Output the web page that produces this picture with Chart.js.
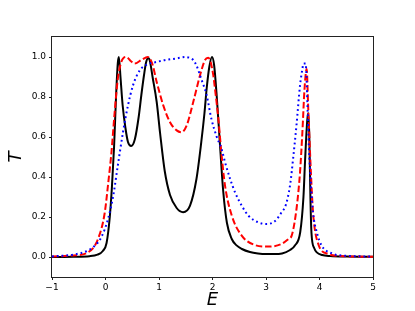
<!DOCTYPE html>
<html lang="en">
<head>
  <meta charset="UTF-8">
  <title>Transmission T(E)</title>
  <script src="https://cdn.jsdelivr.net/npm/chart.js"></script>
  <style>
    body { margin: 0; background: #fff; }
    .chart-container { position: relative; width: 415px; height: 311px; }
  </style>
</head>
<body>
  <div class="chart-container"><canvas id="tChart" width="415" height="311"></canvas></div>
  <script>
    // solid black curve
    const blackE = [-1, -0.6, -0.3, -0.15, -0.05, 0.02, 0.08, 0.12, 0.16, 0.2, 0.23, 0.25, 0.28, 0.32, 0.37, 0.42, 0.48, 0.55, 0.62, 0.67, 0.72, 0.76, 0.8, 0.83, 0.88, 0.957, 1.02, 1.107, 1.206, 1.33, 1.45, 1.58, 1.7, 1.79, 1.85, 1.89, 1.94, 1.99, 2.03, 2.08, 2.14, 2.2, 2.27, 2.36, 2.45, 2.55, 2.7, 2.85, 3.0, 3.15, 3.3, 3.45, 3.54, 3.64, 3.7, 3.73, 3.77, 3.79, 3.81, 3.83, 3.85, 3.9, 3.95, 4.05, 4.2, 4.5, 5];
    const blackT = [0, 0.001, 0.004, 0.012, 0.03, 0.07, 0.2, 0.35, 0.55, 0.82, 0.97, 1.0, 0.9, 0.76, 0.65, 0.575, 0.555, 0.59, 0.7, 0.81, 0.91, 0.975, 0.995, 0.98, 0.9, 0.775, 0.62, 0.43, 0.31, 0.245, 0.224, 0.257, 0.39, 0.574, 0.72, 0.84, 0.95, 1.0, 0.96, 0.8, 0.56, 0.33, 0.17, 0.09, 0.058, 0.04, 0.025, 0.018, 0.015, 0.015, 0.018, 0.035, 0.057, 0.125, 0.3, 0.48, 0.68, 0.72, 0.6, 0.3, 0.12, 0.045, 0.023, 0.01, 0.005, 0.002, 0.001];

    // dashed red curve
    const redE = [-1, -0.6, -0.35, -0.14, -0.015, 0.047, 0.11, 0.17, 0.23, 0.295, 0.39, 0.47, 0.545, 0.67, 0.79, 0.87, 0.957, 1.08, 1.206, 1.33, 1.42, 1.518, 1.64, 1.766, 1.86, 1.92, 1.96, 2.015, 2.047, 2.11, 2.17, 2.234, 2.36, 2.546, 2.79, 3.04, 3.29, 3.42, 3.48, 3.57, 3.636, 3.68, 3.72, 3.76, 3.79, 3.84, 3.88, 3.97, 4.16, 4.4, 5];
    const redT = [0.002, 0.008, 0.02, 0.09, 0.22, 0.36, 0.52, 0.72, 0.89, 0.975, 1.0, 0.98, 0.967, 0.985, 1.0, 0.97, 0.875, 0.758, 0.674, 0.633, 0.624, 0.658, 0.775, 0.908, 0.985, 0.996, 0.98, 0.908, 0.84, 0.69, 0.51, 0.357, 0.207, 0.107, 0.06, 0.052, 0.065, 0.09, 0.107, 0.24, 0.424, 0.624, 0.84, 0.94, 0.74, 0.42, 0.22, 0.07, 0.015, 0.005, 0.001];

    // dotted blue curve
    const blueE = [-1, -0.6, -0.33, -0.2, -0.08, 0.047, 0.145, 0.23, 0.327, 0.42, 0.514, 0.64, 0.794, 0.95, 1.08, 1.33, 1.5, 1.58, 1.64, 1.7, 1.79, 1.89, 1.98, 2.08, 2.17, 2.234, 2.33, 2.42, 2.546, 2.67, 2.856, 3.01, 3.17, 3.29, 3.37, 3.45, 3.51, 3.57, 3.636, 3.68, 3.7, 3.74, 3.78, 3.8, 3.84, 3.88, 3.95, 4.04, 4.23, 4.4, 5];
    const blueT = [0.003, 0.012, 0.032, 0.057, 0.098, 0.19, 0.307, 0.457, 0.624, 0.758, 0.858, 0.933, 0.965, 0.975, 0.983, 0.993, 1.0, 0.995, 0.985, 0.958, 0.89, 0.81, 0.69, 0.6, 0.54, 0.474, 0.39, 0.324, 0.257, 0.207, 0.173, 0.165, 0.18, 0.223, 0.26, 0.36, 0.5, 0.66, 0.858, 0.94, 0.967, 0.967, 0.72, 0.558, 0.36, 0.22, 0.123, 0.057, 0.018, 0.008, 0.002];

    const xTicks = [-1, 0, 1, 2, 3, 4, 5];
    const yTicks = [0, 0.2, 0.4, 0.6, 0.8, 1.0];

    function pts(xs, ys) {
      return xs.map((x, i) => ({ x: x, y: ys[i] }));
    }

    // box around the plot area, like matplotlib spines
    const framePlugin = {
      id: 'frame',
      afterDatasetsDraw(chart) {
        const { ctx, chartArea: a } = chart;
        ctx.save();
        ctx.strokeStyle = '#222';
        ctx.lineWidth = 1;
        ctx.strokeRect(Math.round(a.left) - 0.5, Math.round(a.top) - 0.5, Math.round(a.right - a.left) + 1, Math.round(a.bottom - a.top) + 1);
        ctx.restore();
      }
    };

    Chart.defaults.font.family = 'DejaVu Sans';
    Chart.defaults.color = '#000';

    const lineOpts = { pointRadius: 0, fill: false, cubicInterpolationMode: 'monotone', borderCapStyle: 'butt' };

    new Chart(document.getElementById('tChart'), {
      type: 'line',
      data: {
        datasets: [
          Object.assign({ label: 'black', data: pts(blackE, blackT), borderColor: '#000', borderWidth: 2, order: 3 }, lineOpts),
          Object.assign({ label: 'red', data: pts(redE, redT), borderColor: '#ff0000', borderWidth: 2, borderDash: [6.5, 2.8], order: 2 }, lineOpts),
          Object.assign({ label: 'blue', data: pts(blueE, blueT), borderColor: '#0000ff', borderWidth: 2, borderDash: [1.8, 3], order: 1 }, lineOpts)
        ]
      },
      options: {
        responsive: false,
        animation: false,
        layout: { padding: { top: 37, right: 42, left: 0, bottom: 0 } },
        plugins: {
          legend: { display: false },
          tooltip: { enabled: false }
        },
        scales: {
          x: {
            type: 'linear',
            min: -1,
            max: 5,
            afterBuildTicks: s => { s.ticks = xTicks.map(v => ({ value: v })); },
            afterFit: s => { s.height = 34; },
            border: { display: false },
            grid: { drawOnChartArea: false, drawTicks: true, tickLength: 3, color: '#222' },
            ticks: {
              padding: 2,
              maxRotation: 0,
              font: { size: 9 },
              callback: v => (v < 0 ? '\u2212' + Math.abs(v) : String(v))
            },
            title: {
              display: true,
              text: 'E',
              padding: { top: 0, bottom: 0 },
              font: { size: 18, style: 'italic' }
            }
          },
          y: {
            type: 'linear',
            min: -0.1,
            max: 1.1,
            afterBuildTicks: s => { s.ticks = yTicks.map(v => ({ value: v })); },
            afterFit: s => { s.width = 52; },
            border: { display: false },
            grid: { drawOnChartArea: false, drawTicks: true, tickLength: 3, color: '#222' },
            ticks: {
              padding: 3,
              font: { size: 9 },
              callback: v => v.toFixed(1)
            },
            title: {
              display: true,
              text: 'T',
              padding: { top: 6, bottom: 0 },
              font: { size: 18, style: 'italic' }
            }
          }
        }
      },
      plugins: [framePlugin]
    });
  </script>
</body>
</html>
